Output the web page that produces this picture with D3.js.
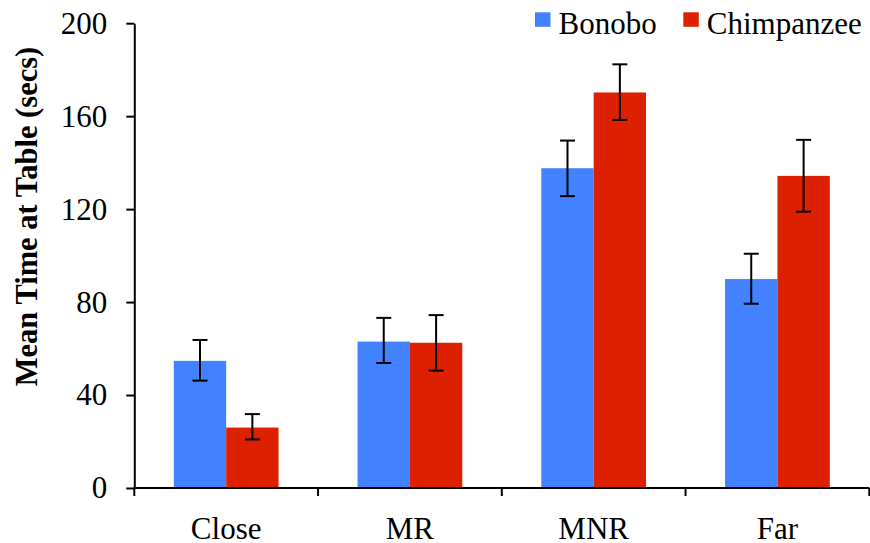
<!DOCTYPE html>
<html>
<head>
<meta charset="utf-8">
<script src="https://cdn.jsdelivr.net/npm/d3@7"></script>
<style>
  html, body { margin: 0; padding: 0; background: #fff; }
  svg { display: block; }
  text { font-family: "Liberation Serif", "Times New Roman", Times, serif; fill: #000; }
</style>
</head>
<body>
<svg id="chart" width="870" height="543"></svg>
<script>
// Conditions and series
const categories = ["Close", "MR", "MNR", "Far"];
const seriesNames = ["Bonobo", "Chimpanzee"];
const seriesColors = ["#4281FF", "#DD2100"];

// Mean time at table (secs)
const bonoboMean = [54.7, 63.0, 137.6, 89.9];
const chimpMean  = [26.0, 62.5, 170.2, 134.3];

// Error bar bounds (lower, upper)
const bonoboLow  = [46.2, 53.8, 125.6, 79.3];
const bonoboHigh = [63.7, 73.2, 149.5, 100.8];
const chimpLow   = [20.9, 50.5, 158.4, 118.9];
const chimpHigh  = [31.8, 74.4, 182.3, 149.8];

const yTicks = [0, 40, 80, 120, 160, 200];

const means = [bonoboMean, chimpMean];
const lows = [bonoboLow, chimpLow];
const highs = [bonoboHigh, chimpHigh];

const svg = d3.select("#chart");
const plotLeft = 134.3, plotRight = 869.3, plotTop = 23.2, plotBottom = 488;

const x0 = d3.scaleBand().domain(categories).range([plotLeft, plotRight])
  .paddingInner(0.43).paddingOuter(0.215);
const x1 = d3.scaleBand().domain(seriesNames).range([0, x0.bandwidth()]);
const y = d3.scaleLinear().domain([0, 200]).range([plotBottom, plotTop]);

// Bars
const rows = [];
categories.forEach((c, i) => {
  seriesNames.forEach((s, j) => {
    rows.push({ cat: c, series: s, j, mean: means[j][i], lo: lows[j][i], hi: highs[j][i] });
  });
});

svg.append("g").selectAll("rect").data(rows).join("rect")
  .attr("x", d => x0(d.cat) + x1(d.series))
  .attr("width", x1.bandwidth())
  .attr("y", d => y(d.mean))
  .attr("height", d => y(0) - y(d.mean))
  .attr("fill", d => seriesColors[d.j]);

// Error bars
const capHalf = 7.5;
const eb = svg.append("g").attr("stroke", "#000").attr("stroke-width", 2);
rows.forEach(d => {
  const cx = x0(d.cat) + x1(d.series) + x1.bandwidth() / 2;
  eb.append("line").attr("x1", cx).attr("x2", cx).attr("y1", y(d.lo)).attr("y2", y(d.hi));
  eb.append("line").attr("x1", cx - capHalf).attr("x2", cx + capHalf).attr("y1", y(d.hi)).attr("y2", y(d.hi));
  eb.append("line").attr("x1", cx - capHalf).attr("x2", cx + capHalf).attr("y1", y(d.lo)).attr("y2", y(d.lo));
});

// Y axis
const yAxis = svg.append("g").attr("transform", `translate(${plotLeft},0)`)
  .call(d3.axisLeft(y).tickValues(yTicks).tickSize(8).tickPadding(19).tickSizeOuter(0));
yAxis.select(".domain").attr("stroke", "#000").attr("stroke-width", 2);
yAxis.selectAll(".tick line").attr("stroke", "#000").attr("stroke-width", 2);
yAxis.selectAll(".tick text").attr("font-size", 31).attr("font-family", "'Liberation Serif', 'Times New Roman', serif");

// X axis: line, boundary ticks, centered labels
const xAxis = svg.append("g").attr("transform", `translate(0,${plotBottom})`)
  .call(d3.axisBottom(x0).tickSize(0).tickPadding(29));
xAxis.select(".domain").remove();
xAxis.selectAll(".tick text").attr("font-size", 31).attr("font-family", "'Liberation Serif', 'Times New Roman', serif");
xAxis.append("line").attr("x1", plotLeft - 1).attr("x2", plotRight).attr("y1", 0).attr("y2", 0)
  .attr("stroke", "#000").attr("stroke-width", 2);
const bounds = categories.map(c => x0(c) - x0.step() * x0.paddingInner() / 2);
bounds.push(plotRight);
xAxis.selectAll(".bound").data(bounds).join("line").attr("class", "bound")
  .attr("x1", d => d).attr("x2", d => d).attr("y1", 0).attr("y2", 8)
  .attr("stroke", "#000").attr("stroke-width", 2);

// Y axis title
svg.append("text")
  .attr("transform", `translate(37,216.5) rotate(-90)`)
  .attr("text-anchor", "middle")
  .attr("font-size", 30.5).attr("font-weight", "bold")
  .text("Mean Time at Table (secs)");

// Legend
const legendX = [535, 683.3];
seriesNames.forEach((s, j) => {
  svg.append("rect").attr("x", legendX[j]).attr("y", 12.3).attr("width", 15.5).attr("height", 14.5)
    .attr("fill", seriesColors[j]);
  svg.append("text").attr("x", legendX[j] + 23.5).attr("y", 34.3)
    .attr("font-size", 31).text(s);
});
</script>
</body>
</html>
